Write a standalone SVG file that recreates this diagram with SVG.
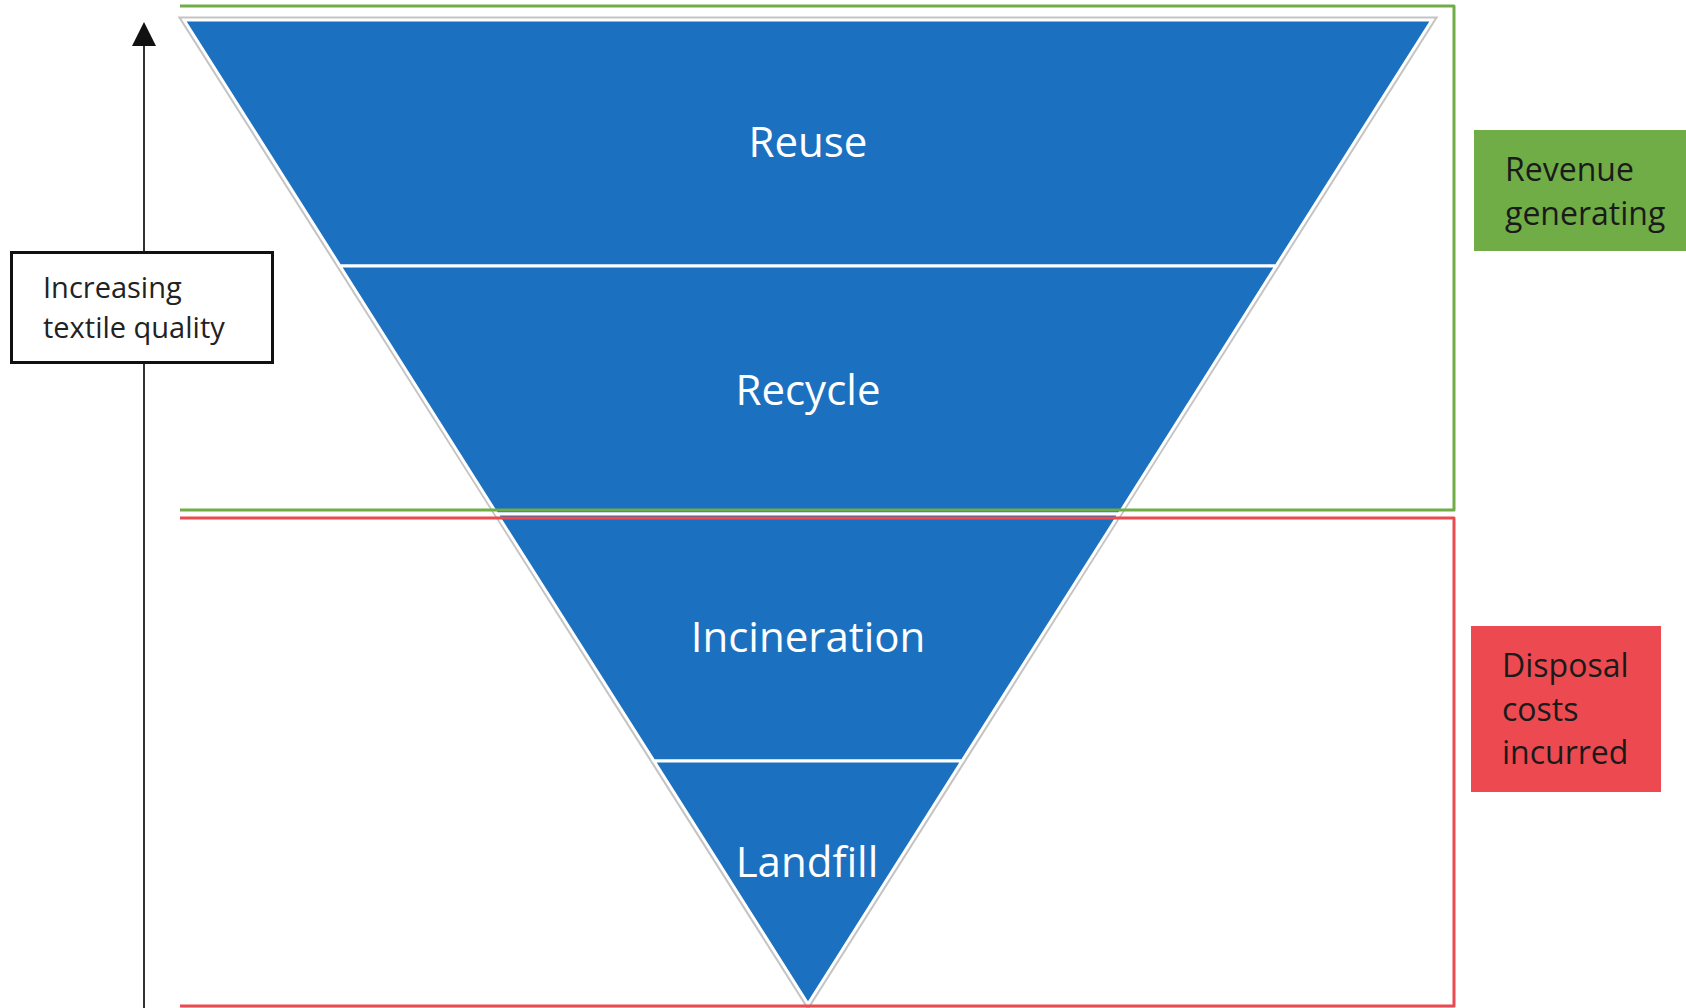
<svg xmlns="http://www.w3.org/2000/svg" width="1686" height="1008" viewBox="0 0 1686 1008">
  <defs>
    <style>
      .tier { fill: #1C70C0; stroke: #FFFFFF; stroke-width: 3; stroke-linejoin: miter; }
      .tier-label { font-family: "Open Sans", "Liberation Sans", sans-serif; font-size: 42px; fill: #FFFFFF; text-anchor: middle; }
      .side-label { font-family: "Open Sans", "Liberation Sans", sans-serif; font-size: 32px; fill: #1A1A1A; }
      .axis-label { font-family: "Open Sans", "Liberation Sans", sans-serif; font-size: 29px; fill: #222222; }
      .bracket { fill: none; stroke-width: 3; stroke-linejoin: round; }
    </style>
    <marker id="arrowhead" viewBox="0 0 24 24" refX="12" refY="0" markerUnits="userSpaceOnUse" markerWidth="24" markerHeight="24" orient="auto-start-reverse">
      <path d="M0,24 L12,0 L24,24 Z" fill="#111111"/>
    </marker>
  </defs>

  <rect width="1686" height="1008" fill="#FFFFFF"/>

  <!-- vertical quality axis -->
  <g id="connectors">
    <line x1="144" y1="1010" x2="144" y2="46" stroke="#333333" stroke-width="2"/>
    <path d="M132,46 L144,22 L156,46 Z" fill="#111111"/>
  </g>

  <!-- inverted pyramid: soft grey outline behind the tiers -->
  <polygon points="184,20 1432,20 808,1004" fill="none" stroke="#C4C4C4" stroke-width="7" stroke-linejoin="miter"/>

  <g id="node-reuse">
    <polygon class="tier" points="184,20 1432,20 1276,266 340,266"/>
    <text class="tier-label" x="808" y="157">Reuse</text>
  </g>
  <g id="node-recycle">
    <polygon class="tier" points="340,266 1276,266 1119,514 497,514"/>
    <text class="tier-label" x="808" y="405">Recycle</text>
  </g>
  <g id="node-incineration">
    <polygon class="tier" points="497,514 1119,514 962,761 654,761"/>
    <text class="tier-label" x="808" y="652">Incineration</text>
  </g>
  <g id="node-landfill">
    <polygon class="tier" points="654,761 962,761 808,1004"/>
    <text class="tier-label" x="807" y="877">Landfill</text>
  </g>

  <!-- revenue / cost brackets -->
  <g id="brackets">
    <path class="bracket" stroke="#70AD47" d="M180,6 L1454,6 L1454,510 L180,510"/>
    <path class="bracket" stroke="#E94B50" d="M180,518 L1454,518 L1454,1006 L180,1006"/>
  </g>

  <g id="node-quality">
    <rect x="11.5" y="252.5" width="261" height="110" fill="#FFFFFF" stroke="#111111" stroke-width="3"/>
    <text class="axis-label" x="43" y="298">Increasing</text>
    <text class="axis-label" x="43" y="338">textile quality</text>
  </g>

  <g id="node-revenue">
    <rect x="1474" y="130" width="212" height="121" fill="#70AD47"/>
    <text class="side-label" x="1505" y="181">Revenue</text>
    <text class="side-label" x="1505" y="225">generating</text>
  </g>

  <g id="node-disposal">
    <rect x="1471" y="626" width="190" height="166" fill="#EC4A50"/>
    <text class="side-label" x="1502" y="677">Disposal</text>
    <text class="side-label" x="1502" y="721">costs</text>
    <text class="side-label" x="1502" y="764">incurred</text>
  </g>
</svg>
